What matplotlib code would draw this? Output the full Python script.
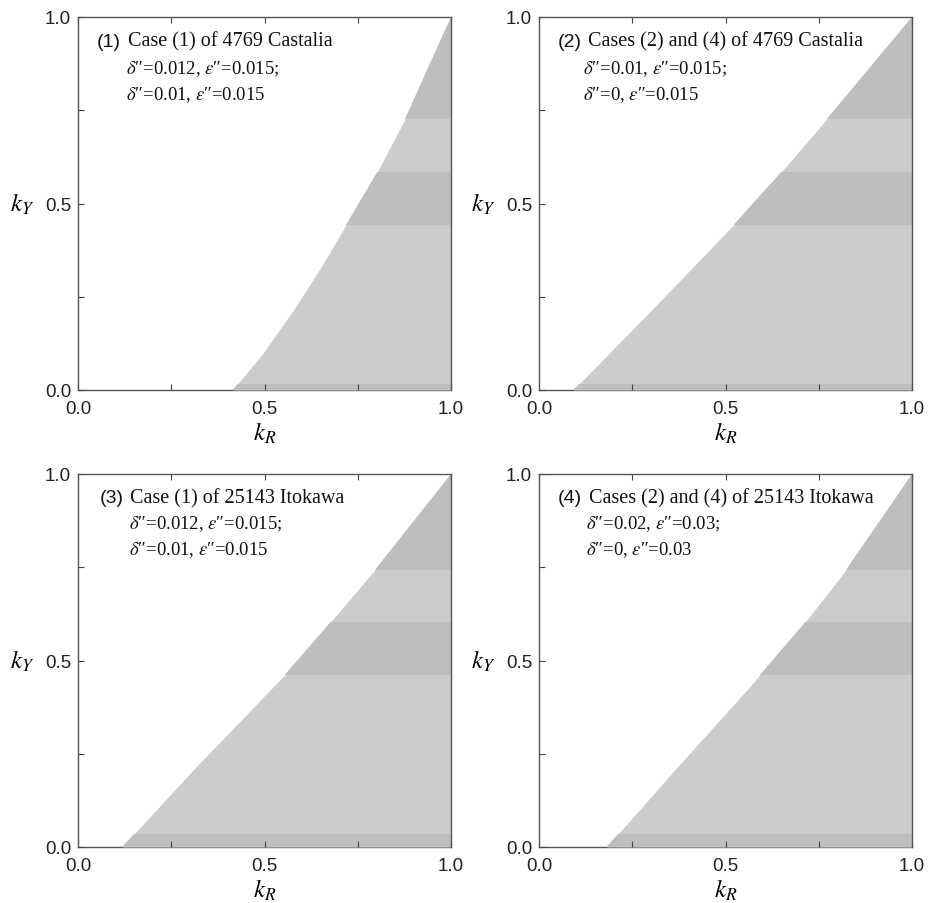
import numpy as np
import matplotlib
matplotlib.use('Agg')
import matplotlib.pyplot as plt
from matplotlib.ticker import MultipleLocator

plt.rcParams['font.family'] = ['Liberation Sans', 'DejaVu Sans']
plt.rcParams['mathtext.fontset'] = 'stix'

# boundary of the shaded region (kY -> kR)
ky1 = [0.0, 0.1, 0.218, 0.33, 0.442, 0.584, 0.727, 0.85, 1.0]
kr1 = [0.415, 0.497, 0.580, 0.652, 0.718, 0.802, 0.877, 0.932, 1.0]
ky2 = [0.0, 0.22, 0.442, 0.584, 0.727, 1.0]
kr2 = [0.092, 0.307, 0.521, 0.649, 0.772, 1.0]
ky3 = [0.0, 0.21, 0.397, 0.460, 0.602, 0.743, 1.0]
kr3 = [0.118, 0.312, 0.492, 0.553, 0.676, 0.796, 1.0]
ky4 = [0.0, 0.209, 0.424, 0.602, 0.743, 1.0]
kr4 = [0.181, 0.366, 0.560, 0.713, 0.823, 1.0]

# darker bands (kY ranges)
bands_top = [(0.0, 0.015), (0.442, 0.584), (0.727, 1.0)]
bands_bot = [(0.0, 0.034), (0.460, 0.602), (0.743, 1.0)]

tags = ['(1)', '(2)', '(3)', '(4)']
titles = ['Case (1) of 4769 Castalia',
          'Cases (2) and (4) of 4769 Castalia',
          'Case (1) of 25143 Itokawa',
          'Cases (2) and (4) of 25143 Itokawa']
D = r"$\delta$″"
E = r"$\varepsilon$″"
line2 = [D + "=0.012, " + E + "=0.015;",
         D + "=0.01, " + E + "=0.015;",
         D + "=0.012, " + E + "=0.015;",
         D + "=0.02, " + E + "=0.03;"]
line3 = [D + "=0.01, " + E + "=0.015",
         D + "=0, " + E + "=0.015",
         D + "=0.01, " + E + "=0.015",
         D + "=0, " + E + "=0.03"]

curves = [(ky1, kr1), (ky2, kr2), (ky3, kr3), (ky4, kr4)]
bands = [bands_top, bands_top, bands_bot, bands_bot]

light = '#cccccc'
dark = '#bebebe'
serif = ['Liberation Serif', 'DejaVu Serif']

fig = plt.figure(figsize=(9.39, 9.04), dpi=100)
W, H = 939, 904
pos = [(78, 391), (539, 391), (78, 848), (539, 848)]
tag_x = [0.051, 0.049, 0.059, 0.049]
title_x = [0.134, 0.132, 0.139, 0.134]
sub_x = [0.130, 0.119, 0.137, 0.125]
rows_y = [(0.935, 0.863, 0.794), (0.935, 0.863, 0.794),
          (0.9375, 0.869, 0.80), (0.9375, 0.869, 0.80)]

for i in range(4):
    x0, yb = pos[i]
    ax = fig.add_axes([x0 / W, (H - yb) / H, 373 / W, 373 / H])
    ky, kr = curves[i]
    poly = ax.fill_betweenx(ky, kr, 1.0, color=light, lw=0, zorder=1)
    path = poly.get_paths()[0]
    for (a, b) in bands[i]:
        sp = ax.axhspan(a, b, color=dark, lw=0, zorder=1.1)
        sp.set_clip_path(path, poly.get_transform())

    ax.set_xlim(0, 1)
    ax.set_ylim(0, 1)
    ax.xaxis.set_major_locator(MultipleLocator(0.5))
    ax.yaxis.set_major_locator(MultipleLocator(0.5))
    ax.xaxis.set_minor_locator(MultipleLocator(0.25))
    ax.yaxis.set_minor_locator(MultipleLocator(0.25))
    ax.xaxis.set_major_formatter(plt.FormatStrFormatter('%.1f'))
    ax.yaxis.set_major_formatter(plt.FormatStrFormatter('%.1f'))
    ax.tick_params(which='both', direction='in', top=True, right=False,
                   length=4, width=0.8, color='#444444', labelsize=13.5,
                   labelcolor='#222222')
    ax.tick_params(axis='x', pad=7)
    ax.tick_params(axis='y', pad=5)
    for s in ax.spines.values():
        s.set_color('#555555')
        s.set_linewidth(1.0)
    ax.spines['bottom'].set_zorder(0.5)

    ax.set_xlabel(r'$k_R$', fontsize=18, va='center')
    ax.set_ylabel(r'$k_Y$', fontsize=18, rotation=0, va='center', ha='center')
    ax.xaxis.set_label_coords(0.5, -0.113)
    ax.yaxis.set_label_coords(-0.15, 0.5)

    ty, y2, y3 = rows_y[i]
    ax.text(tag_x[i], ty, tags[i], transform=ax.transAxes, fontsize=14,
            va='center', ha='left', color='#111111')
    ax.text(title_x[i], ty, titles[i], transform=ax.transAxes,
            fontsize=14.5, family=serif, va='center', ha='left',
            color='#111111')
    ax.text(sub_x[i], y2, line2[i], transform=ax.transAxes, fontsize=13.5,
            family=serif, va='center', ha='left', color='#111111')
    ax.text(sub_x[i], y3, line3[i], transform=ax.transAxes, fontsize=13.5,
            family=serif, va='center', ha='left', color='#111111')

fig.savefig('out.png', dpi=100)
